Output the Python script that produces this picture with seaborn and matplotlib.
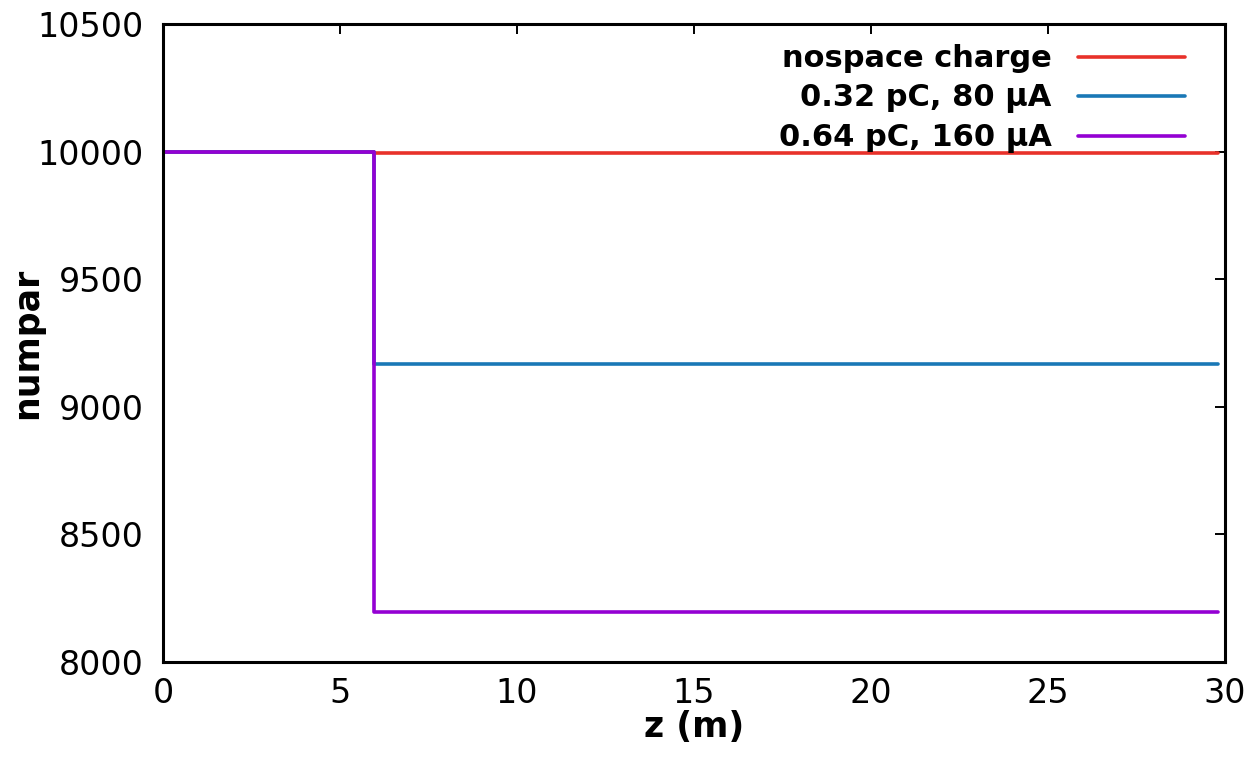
import matplotlib
matplotlib.use("Agg")
import matplotlib.pyplot as plt
import seaborn as sns
import pandas as pd

# Particle count along the beamline for three space-charge settings
series_names = ["nospace charge", "0.32 pC, 80 \u03bcA", "0.64 pC, 160 \u03bcA"]
z_points = [0.0, 5.95, 29.8]
numpar_nosc = [10000, 9993, 9993]
numpar_032 = [10000, 9169, 9169]
numpar_064 = [10000, 8196, 8196]
line_colors = ["#e8312a", "#1a78b6", "#9400d3"]

x_ticks = [0, 5, 10, 15, 20, 25, 30]
y_ticks = [8000, 8500, 9000, 9500, 10000, 10500]

rows = []
for name, vals in zip(series_names, [numpar_nosc, numpar_032, numpar_064]):
    for z, n in zip(z_points, vals):
        rows.append({"z": z, "numpar": n, "run": name})
df = pd.DataFrame(rows)

sns.set_theme(style="white")
plt.rcParams["font.family"] = ["DejaVu Sans"]
plt.rcParams["text.color"] = "black"
plt.rcParams["axes.labelcolor"] = "black"

fig = plt.figure(figsize=(12.56, 7.60), dpi=100)
ax = fig.add_axes([0.1298, 0.1289, 0.8455, 0.8395])

sns.lineplot(data=df, x="z", y="numpar", hue="run", hue_order=series_names,
             palette=line_colors, drawstyle="steps-post", linewidth=2.6,
             sort=False, estimator=None, ax=ax)

ax.set_xlim(0, 30)
ax.set_ylim(8000, 10500)
ax.set_xticks(x_ticks)
ax.set_yticks(y_ticks)
ax.tick_params(direction="in", length=7, width=1.4, top=True, right=True,
               labelsize=24, colors="black", pad=11)
ax.tick_params(axis="y", pad=14)
for sp in ax.spines.values():
    sp.set_color("black")
    sp.set_linewidth(2.2)

ax.set_xlabel("z (m)", fontsize=25, fontweight="bold", labelpad=0)
ax.set_ylabel("numpar", fontsize=25, fontweight="bold", labelpad=-5)

leg = ax.legend(loc="upper right", bbox_to_anchor=(0.9736, 0.9875),
                borderaxespad=0, frameon=False, markerfirst=False,
                handlelength=3.5, handletextpad=0.85, labelspacing=0.33,
                prop={"size": 22, "weight": "bold"})
for ln in leg.get_lines():
    ln.set_linewidth(2.6)

fig.savefig("out.png", dpi=100, facecolor="white")
